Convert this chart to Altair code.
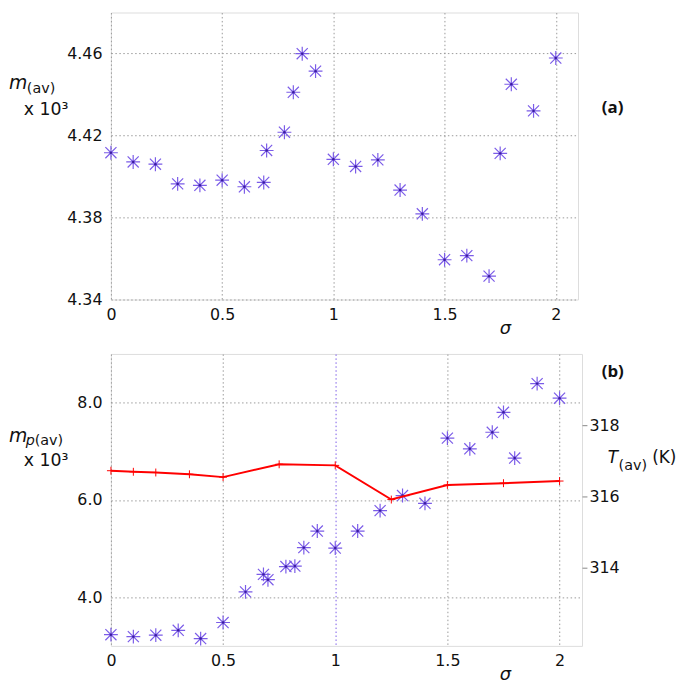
import altair as alt
import pandas as pd

# ---- data ----
sigma_a = [0, 0.1, 0.2, 0.3, 0.4, 0.5, 0.6, 0.687, 0.7, 0.78, 0.82, 0.86, 0.92,
           1.0, 1.1, 1.2, 1.3, 1.4, 1.5, 1.6, 1.7, 1.75, 1.8, 1.9, 2.0]
m_av = [4.4116, 4.4071, 4.4060, 4.3964, 4.3957, 4.3982, 4.3950, 4.3971, 4.4127,
        4.4216, 4.4411, 4.4599, 4.4514, 4.4084, 4.4049, 4.4081, 4.3934, 4.3818,
        4.3594, 4.3614, 4.3514, 4.4113, 4.4450, 4.4320, 4.4578]

sigma_b = [0, 0.1, 0.2, 0.3, 0.4, 0.5, 0.6, 0.68, 0.7, 0.78, 0.82, 0.86, 0.92,
           1.0, 1.1, 1.2, 1.3, 1.4, 1.5, 1.6, 1.7, 1.75, 1.8, 1.9, 2.0]
mp_av = [3.23, 3.19, 3.22, 3.32, 3.15, 3.48, 4.11, 4.47, 4.36, 4.63, 4.64, 5.02,
         5.36, 5.01, 5.36, 5.78, 6.09, 5.93, 7.27, 7.05, 7.39, 7.80, 6.86, 8.39, 8.09]

sigma_t = [0, 0.1, 0.2, 0.35, 0.5, 0.75, 1.0, 1.25, 1.5, 1.75, 2.0]
t_av = [316.72, 316.69, 316.67, 316.62, 316.54, 316.90, 316.87, 315.91, 316.32,
        316.37, 316.43]

x_ticks = [0, 0.5, 1, 1.5, 2]
ya_ticks = [4.34, 4.38, 4.42, 4.46]
yb_ticks = [4, 6, 8]
t_ticks = [314, 316, 318]

# ---- styles ----
PURPLE = "#7b5ce8"
DARK = "#3b1d9e"
RED = "#ff0000"
GRID = "#9a9a9a"
FONT = "DejaVu Sans"
ASTER = "M-1,0H1M0,-1V1M-0.8,-0.8L0.8,0.8M-0.8,0.8L0.8,-0.8"
PLUS = "M-1,0H1M0,-1V1"

df_a = pd.DataFrame({"s": sigma_a, "m": m_av})
df_b = pd.DataFrame({"s": sigma_b, "m": mp_av})
df_t = pd.DataFrame({"s": sigma_t, "T": t_av})
one = pd.DataFrame({"k": [0]})


def x_axis(grid_color):
    return alt.Axis(values=x_ticks, format="~g", title=None, grid=True, ticks=False,
                    domain=False, labelPadding=7, labelFontSize=16, labelFont=FONT,
                    labelColor="#111", labelFlush=False, gridColor=grid_color,
                    gridDash=[1.5, 2.5], gridWidth=1)


def txt(text, x, y, size, style="normal", weight="normal", font=FONT):
    return alt.Chart(one).mark_text(
        text=text, x=x, y=y, fontSize=size, fontStyle=style, fontWeight=weight,
        font=font, align="left", baseline="alphabetic", color="#111")


# ---------- panel (a) ----------
xa = alt.X("s:Q", scale=alt.Scale(domain=[0, 2.1], nice=False, zero=False),
           axis=x_axis(GRID))
ya = alt.Y("m:Q", scale=alt.Scale(domain=[4.34, 4.48], nice=False, zero=False),
           axis=alt.Axis(values=ya_ticks, format=".2f", title=None, grid=True,
                         ticks=False, domain=False, labelPadding=9, labelFontSize=16,
                         labelFont=FONT, labelColor="#111", gridColor=GRID,
                         gridDash=[1.5, 2.5], labelFlush=False))

pts_a = alt.Chart(df_a).mark_point(shape=ASTER, filled=False, size=196,
                                   strokeWidth=1.2, color=PURPLE, opacity=1).encode(x=xa, y=ya)
dots_a = alt.Chart(df_a).mark_point(shape="circle", filled=True, size=6,
                                    color=DARK, opacity=1).encode(x=xa, y=ya)

top = alt.layer(
    pts_a, dots_a,
    txt("m", -103, 77, 19, style="italic"),
    txt("(av)", -85, 81, 14.5),
    txt("x 10³", -88, 104, 17.5),
    txt("(a)", 496, 102, 17, weight="bold", font="Open Sans"),
    txt("σ", 393, 325, 18, style="italic"),
).properties(width=472, height=290)

# ---------- panel (b) ----------
xb = alt.X("s:Q", scale=alt.Scale(domain=[0, 2.1], nice=False, zero=False),
           axis=x_axis(alt.condition("datum.value == 1", alt.value(PURPLE), alt.value(GRID))))
yb = alt.Y("m:Q", scale=alt.Scale(domain=[3, 9], nice=False, zero=False),
           axis=alt.Axis(values=yb_ticks, format=".1f", title=None, grid=True,
                         ticks=False, domain=False, labelPadding=9, labelFontSize=16,
                         labelFont=FONT, labelColor="#111", gridColor=GRID,
                         gridDash=[1.5, 2.5], labelFlush=False, orient="left"))
yt = alt.Y("T:Q", scale=alt.Scale(domain=[311.8, 320], nice=False, zero=False),
           axis=alt.Axis(values=t_ticks, format="d", title=None, grid=False,
                         ticks=True, tickSize=5, tickColor="#888", domain=False,
                         labelPadding=2, labelFontSize=16, labelFont=FONT,
                         labelColor="#111", labelFlush=False, orient="right"))

pts_b = alt.Chart(df_b).mark_point(shape=ASTER, filled=False, size=196,
                                   strokeWidth=1.2, color=PURPLE, opacity=1).encode(x=xb, y=yb)
dots_b = alt.Chart(df_b).mark_point(shape="circle", filled=True, size=6,
                                    color=DARK, opacity=1).encode(x=xb, y=yb)
left_layer = alt.layer(pts_b, dots_b)

line_t = alt.Chart(df_t).mark_line(color=RED, strokeWidth=2).encode(x=xb, y=yt)
plus_t = alt.Chart(df_t).mark_point(shape=PLUS, filled=False, size=64, strokeWidth=1,
                                    color=RED, opacity=1).encode(x=xb, y=yt)
right_layer = alt.layer(line_t, plus_t)

bottom = alt.layer(
    left_layer, right_layer,
    txt("m", -103, 89, 19, style="italic"),
    txt("p", -86, 92, 14.5, style="italic"),
    txt("(av)", -77, 92, 14.5),
    txt("x 10³", -88, 113, 17.5),
    txt("T", 502, 110, 17, style="italic"),
    txt("(av)", 513, 117, 14.5),
    txt("(K)", 547, 110, 17),
    txt("(b)", 496, 23, 17, weight="bold", font="Open Sans"),
    txt("σ", 393, 329, 18, style="italic"),
).resolve_scale(y="independent").properties(width=476, height=295)

chart = alt.vconcat(top, bottom, spacing=55, bounds="flush").properties(
    padding=0
).configure_view(stroke="#888", strokeWidth=1).configure(background="white")

chart.save("out.html", embed_options={"renderer": "svg", "actions": False})
